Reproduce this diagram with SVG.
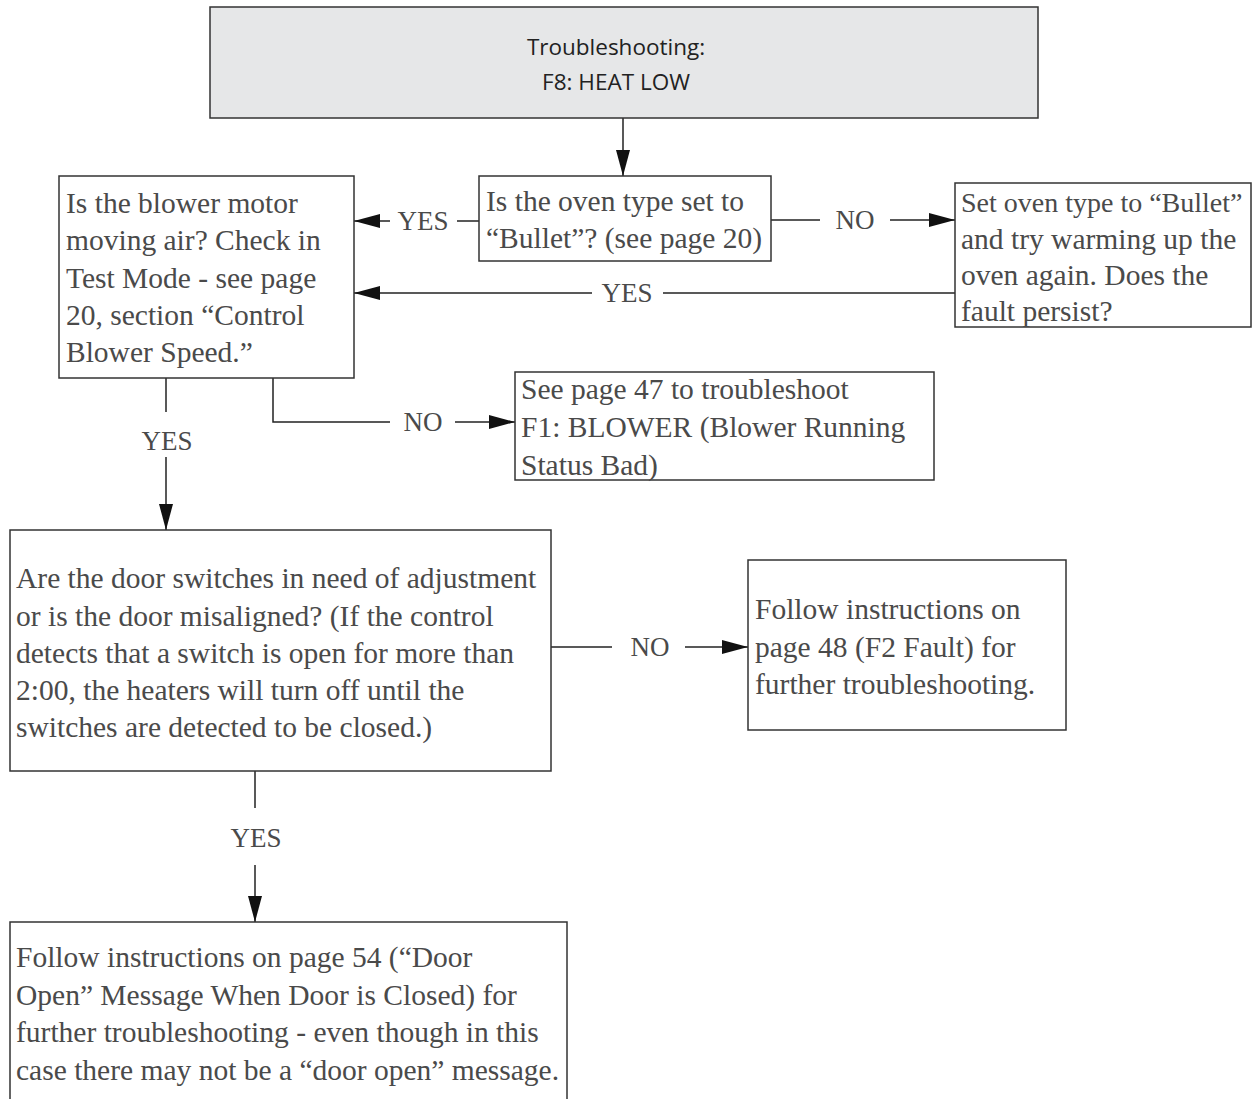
<svg xmlns="http://www.w3.org/2000/svg" width="1254" height="1099" viewBox="0 0 1254 1099">
<style>
.box{fill:#fff;stroke:#333;stroke-width:1.5}
.title{fill:#e6e7e8;stroke:#333;stroke-width:1.5}
.t{font-family:"Liberation Serif",serif;font-size:29.5px;fill:#4a4a4a}
.lbl{font-family:"Liberation Serif",serif;font-size:27px;fill:#4a4a4a;text-anchor:middle}
.tt{font-family:"Open Sans","Liberation Sans",sans-serif;font-size:22.5px;fill:#222;text-anchor:middle}
.c{fill:none;stroke:#222;stroke-width:1.5}
</style>
<defs>
<marker id="ah" markerUnits="userSpaceOnUse" markerWidth="26" markerHeight="14" refX="26" refY="7" orient="auto">
<path d="M0,0 L26,7 L0,14 Z" fill="#111"/>
</marker>
</defs>
<g id="connectors">
<line class="c" x1="623" y1="118" x2="623" y2="176" marker-end="url(#ah)"/>
<line class="c" x1="479" y1="221" x2="457" y2="221"/>
<line class="c" x1="390" y1="221" x2="354" y2="221" marker-end="url(#ah)"/>
<text class="lbl" x="423" y="230">YES</text>
<line class="c" x1="771" y1="220" x2="820" y2="220"/>
<line class="c" x1="890" y1="220" x2="955" y2="220" marker-end="url(#ah)"/>
<text class="lbl" x="855" y="229">NO</text>
<line class="c" x1="955" y1="293" x2="663" y2="293"/>
<line class="c" x1="592" y1="293" x2="354" y2="293" marker-end="url(#ah)"/>
<text class="lbl" x="627" y="302">YES</text>
<line class="c" x1="166" y1="378" x2="166" y2="412"/>
<line class="c" x1="166" y1="457" x2="166" y2="530" marker-end="url(#ah)"/>
<text class="lbl" x="167" y="450">YES</text>
<polyline class="c" points="273,378 273,422 390,422"/>
<line class="c" x1="455" y1="422" x2="515" y2="422" marker-end="url(#ah)"/>
<text class="lbl" x="423" y="431">NO</text>
<line class="c" x1="551" y1="647" x2="612" y2="647"/>
<line class="c" x1="685" y1="647" x2="748" y2="647" marker-end="url(#ah)"/>
<text class="lbl" x="650" y="656">NO</text>
<line class="c" x1="255" y1="771" x2="255" y2="808"/>
<line class="c" x1="255" y1="865" x2="255" y2="922" marker-end="url(#ah)"/>
<text class="lbl" x="256" y="847">YES</text>
</g>
<g id="n-title">
<rect class="title" x="210" y="7" width="828" height="111"/>
<text class="tt" x="616" y="55">Troubleshooting:</text>
<text class="tt" x="616" y="90">F8: HEAT LOW</text>
</g>
<g id="n-oventype">
<rect class="box" x="479" y="176" width="292" height="85"/>
<text class="t" x="486" y="211">Is the oven type set to</text>
<text class="t" x="486" y="248">“Bullet”? (see page 20)</text>
</g>
<g id="n-blower">
<rect class="box" x="59" y="176" width="295" height="202"/>
<text class="t" x="66" y="213">Is the blower motor</text>
<text class="t" x="66" y="250">moving air? Check in</text>
<text class="t" x="66" y="288">Test Mode - see page</text>
<text class="t" x="66" y="325">20, section “Control</text>
<text class="t" x="66" y="362">Blower Speed.”</text>
</g>
<g id="n-setoven">
<rect class="box" x="955" y="183" width="296" height="144"/>
<text class="t" x="961" y="212" style="font-size:28px">Set oven type to “Bullet”</text>
<text class="t" x="961" y="249">and try warming up the</text>
<text class="t" x="961" y="285">oven again. Does the</text>
<text class="t" x="961" y="321">fault persist?</text>
</g>
<g id="n-f1">
<rect class="box" x="515" y="372" width="419" height="108"/>
<text class="t" x="521" y="399">See page 47 to troubleshoot</text>
<text class="t" x="521" y="437">F1: BLOWER (Blower Running</text>
<text class="t" x="521" y="475">Status Bad)</text>
</g>
<g id="n-door">
<rect class="box" x="10" y="530" width="541" height="241"/>
<text class="t" x="16" y="588">Are the door switches in need of adjustment</text>
<text class="t" x="16" y="626">or is the door misaligned? (If the control</text>
<text class="t" x="16" y="663">detects that a switch is open for more than</text>
<text class="t" x="16" y="700">2:00, the heaters will turn off until the</text>
<text class="t" x="16" y="737">switches are detected to be closed.)</text>
</g>
<g id="n-f2">
<rect class="box" x="748" y="560" width="318" height="170"/>
<text class="t" x="755" y="619">Follow instructions on</text>
<text class="t" x="755" y="657">page 48 (F2 Fault) for</text>
<text class="t" x="755" y="694">further troubleshooting.</text>
</g>
<g id="n-dooropen">
<rect class="box" x="10" y="922" width="557" height="190"/>
<text class="t" x="16" y="967">Follow instructions on page 54 (“Door</text>
<text class="t" x="16" y="1005">Open” Message When Door is Closed) for</text>
<text class="t" x="16" y="1042">further troubleshooting - even though in this</text>
<text class="t" x="16" y="1080">case there may not be a “door open” message.</text>
</g>
</svg>
